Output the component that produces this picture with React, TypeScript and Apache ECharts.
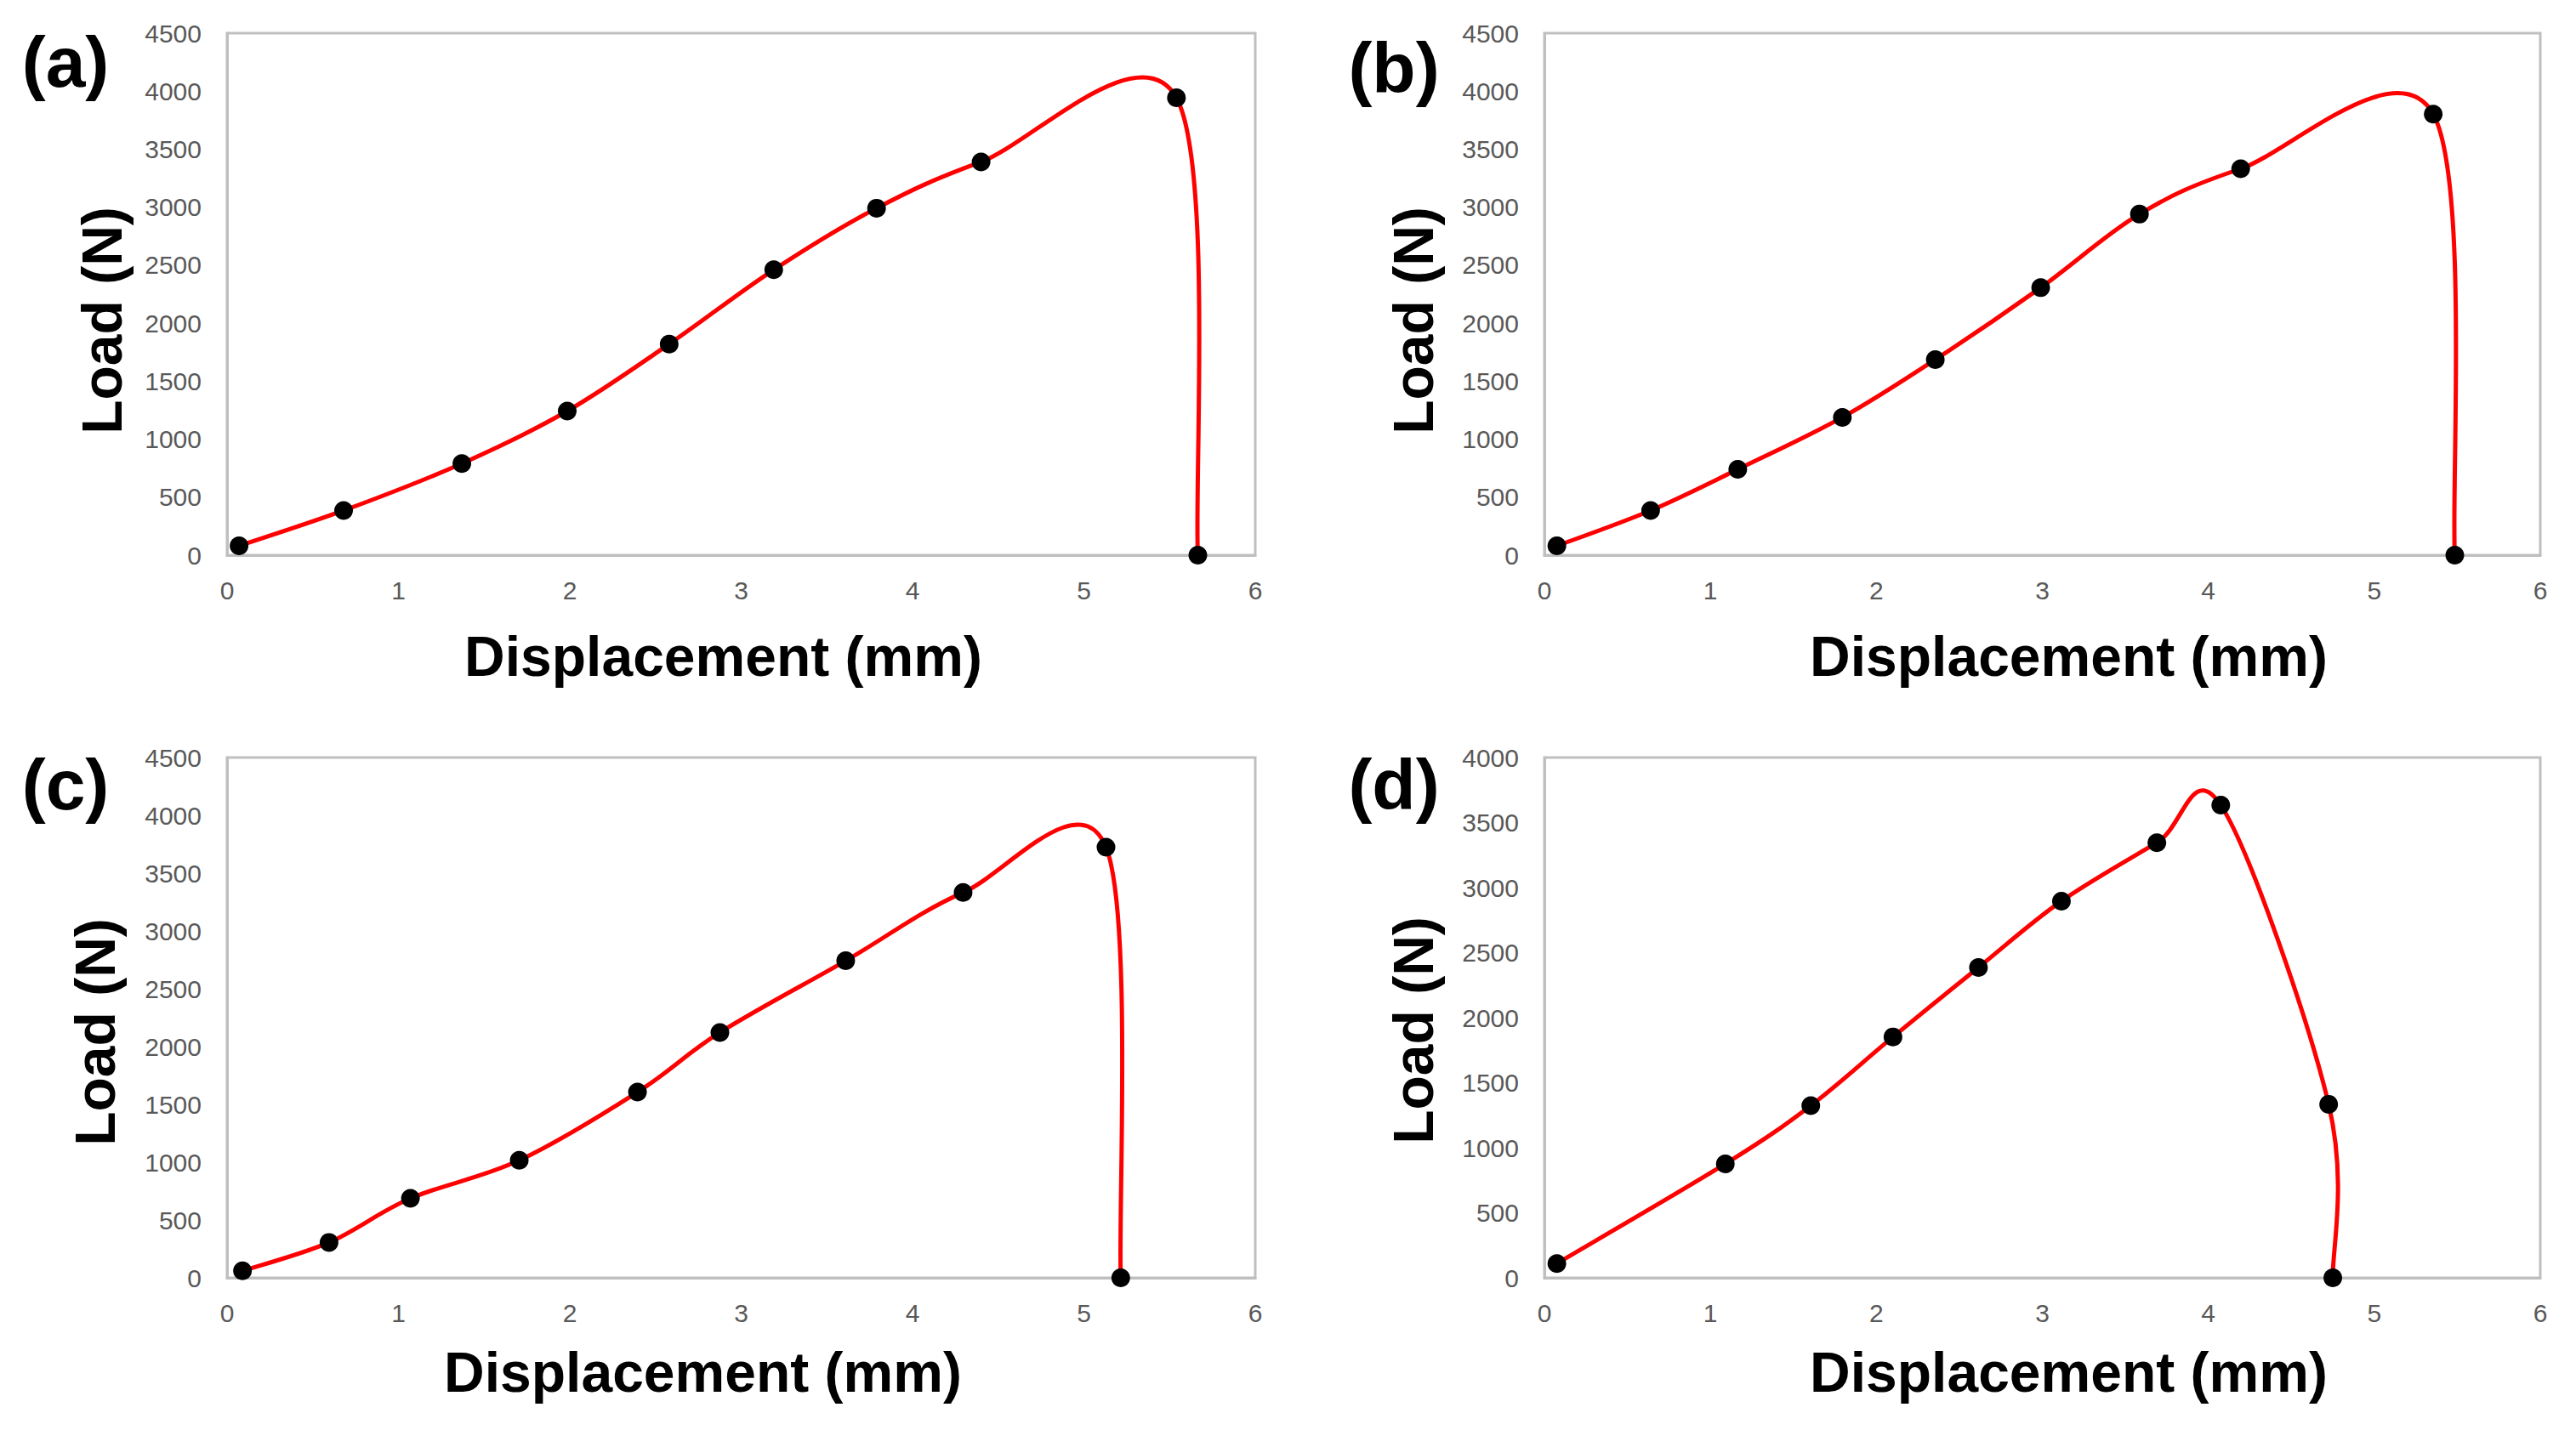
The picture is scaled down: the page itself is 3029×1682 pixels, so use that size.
import React, { useEffect, useRef } from "react";
import * as echarts from "echarts";

// ---------- data ----------
const panelLabels = ["(a)", "(b)", "(c)", "(d)"];

const xTicks = [0, 1, 2, 3, 4, 5, 6];
const yTicksA = [0, 500, 1000, 1500, 2000, 2500, 3000, 3500, 4000, 4500];
const yTicksD = [0, 500, 1000, 1500, 2000, 2500, 3000, 3500, 4000];

const dispA = [0.07, 0.68, 1.37, 1.985, 2.58, 3.19, 3.79, 4.4, 5.54, 5.665];
const loadA = [80, 385, 790, 1242, 1820, 2460, 2991, 3390, 3943, 0];

const dispB = [0.075, 0.64, 1.165, 1.795, 2.355, 2.99, 3.585, 4.195, 5.355, 5.485];
const loadB = [80, 385, 740, 1188, 1686, 2306, 2940, 3331, 3802, 0];

const dispC = [0.09, 0.595, 1.07, 1.705, 2.395, 2.876, 3.61, 4.295, 5.129, 5.215];
const loadC = [60, 306, 687, 1016, 1606, 2122, 2742, 3332, 3724, 0];

const dispD = [0.075, 1.09, 1.605, 2.1, 2.615, 3.115, 3.69, 4.075, 4.725, 4.75];
const loadD = [110, 876, 1324, 1852, 2386, 2896, 3345, 3634, 1334, 0];

const xName = "Displacement (mm)";
const yName = "Load (N)";

// ---------- layout (positions / styles) ----------
const layouts = [
  { grid: { left: 267, top: 39, width: 1209, height: 614 }, label: [77, 73], xGap: 86, xShift: -21, yGap: 114, yShift: 31 },
  { grid: { left: 1816, top: 39, width: 1171, height: 614 }, label: [1639, 80], xGap: 86, xShift: 31, yGap: 121, yShift: 31 },
  { grid: { left: 267, top: 891, width: 1209, height: 612 }, label: [77, 923], xGap: 78, xShift: -45, yGap: 122, yShift: 17 },
  { grid: { left: 1816, top: 891, width: 1171, height: 612 }, label: [1639, 923], xGap: 78, xShift: 31, yGap: 121, yShift: 15 },
];

const FONT = "'Liberation Sans', Arial, sans-serif";
const GRID_COLOR = "#BFBFBF";
const TICK_COLOR = "#595959";

function smoothRenderer(xs: number[], ys: number[]) {
  return (params: any, api: any) => {
    if (params.dataIndex !== 0) return null;
    const pts = xs.map((x, i) => api.coord([x, ys[i]]));
    const n = pts.length;
    let d = `M ${pts[0][0]} ${pts[0][1]}`;
    for (let i = 0; i < n - 1; i++) {
      const p0 = pts[Math.max(i - 1, 0)];
      const p1 = pts[i];
      const p2 = pts[i + 1];
      const p3 = pts[Math.min(i + 2, n - 1)];
      const c1x = p1[0] + (p2[0] - p0[0]) / 6;
      const c1y = p1[1] + (p2[1] - p0[1]) / 6;
      const c2x = p2[0] - (p3[0] - p1[0]) / 6;
      const c2y = p2[1] - (p3[1] - p1[1]) / 6;
      d += ` C ${c1x} ${c1y} ${c2x} ${c2y} ${p2[0]} ${p2[1]}`;
    }
    return {
      type: "path",
      shape: { pathData: d },
      style: { fill: "none", stroke: "#FF0000", lineWidth: 5, lineJoin: "round", lineCap: "round" },
    };
  };
}

export default function App() {
  const ref = useRef<HTMLDivElement>(null);

  useEffect(() => {
    if (!ref.current) return;
    const chart = echarts.init(ref.current, null, { renderer: "svg" });

    const series = [
      { xs: dispA, ys: loadA, yTicks: yTicksA },
      { xs: dispB, ys: loadB, yTicks: yTicksA },
      { xs: dispC, ys: loadC, yTicks: yTicksA },
      { xs: dispD, ys: loadD, yTicks: yTicksD },
    ];

    const grids: any[] = [];
    const xAxes: any[] = [];
    const yAxes: any[] = [];
    const allSeries: any[] = [];
    const graphics: any[] = [];

    series.forEach((s, i) => {
      const L = layouts[i];
      grids.push({ ...L.grid, show: true, borderColor: GRID_COLOR, borderWidth: 3, backgroundColor: "transparent" });
      const yMax = s.yTicks[s.yTicks.length - 1];
      xAxes.push({
        gridIndex: i,
        type: "value",
        min: xTicks[0],
        max: xTicks[xTicks.length - 1],
        interval: xTicks[1] - xTicks[0],
        axisLine: { show: true, lineStyle: { color: GRID_COLOR, width: 3 } },
        axisTick: { show: false },
        splitLine: { show: false },
        axisLabel: { color: TICK_COLOR, fontSize: 30, fontFamily: FONT, margin: 26, formatter: (v: number) => String(v) },
        name: xName,
        nameLocation: "middle",
        nameGap: L.xGap,
        nameTextStyle: {
          fontFamily: FONT,
          fontWeight: "bold",
          fontSize: 66,
          color: "#000",
          padding: L.xShift < 0 ? [0, -2 * L.xShift, 0, 0] : [0, 0, 0, 2 * L.xShift],
        },
      });
      yAxes.push({
        gridIndex: i,
        type: "value",
        min: s.yTicks[0],
        max: yMax,
        interval: s.yTicks[1] - s.yTicks[0],
        axisLine: { show: true, lineStyle: { color: GRID_COLOR, width: 3 } },
        axisTick: { show: false },
        splitLine: { show: false },
        axisLabel: { color: TICK_COLOR, fontSize: 30, fontFamily: FONT, margin: 30, formatter: (v: number) => String(v) },
        name: yName,
        nameLocation: "middle",
        nameGap: L.yGap,
        nameTextStyle: {
          fontFamily: FONT,
          fontWeight: "bold",
          fontSize: 66,
          color: "#000",
          padding: [0, 2 * L.yShift, 0, 0],
        },
      });
      const pts = s.xs.map((x, k) => [x, s.ys[k]]);
      allSeries.push({
        type: "custom",
        xAxisIndex: i,
        yAxisIndex: i,
        data: pts,
        encode: { x: 0, y: 1 },
        renderItem: smoothRenderer(s.xs, s.ys),
        z: 2,
        silent: true,
      });
      allSeries.push({
        type: "scatter",
        xAxisIndex: i,
        yAxisIndex: i,
        data: pts,
        symbol: "circle",
        symbolSize: 22,
        itemStyle: { color: "#000", opacity: 1 },
        z: 3,
        silent: true,
      });
      graphics.push({
        type: "text",
        x: L.label[0],
        y: L.label[1],
        style: {
          text: panelLabels[i],
          font: `bold 84px ${FONT}`,
          fill: "#000",
          align: "center",
          verticalAlign: "middle",
        },
      });
    });

    chart.setOption({
      animation: false,
      backgroundColor: "#fff",
      grid: grids,
      xAxis: xAxes,
      yAxis: yAxes,
      series: allSeries,
      graphic: graphics,
    });

    return () => chart.dispose();
  }, []);

  return (
    <div
      ref={ref}
      style={{ position: "absolute", left: 0, top: 0, width: 3029, height: 1682 }}
    />
  );
}
